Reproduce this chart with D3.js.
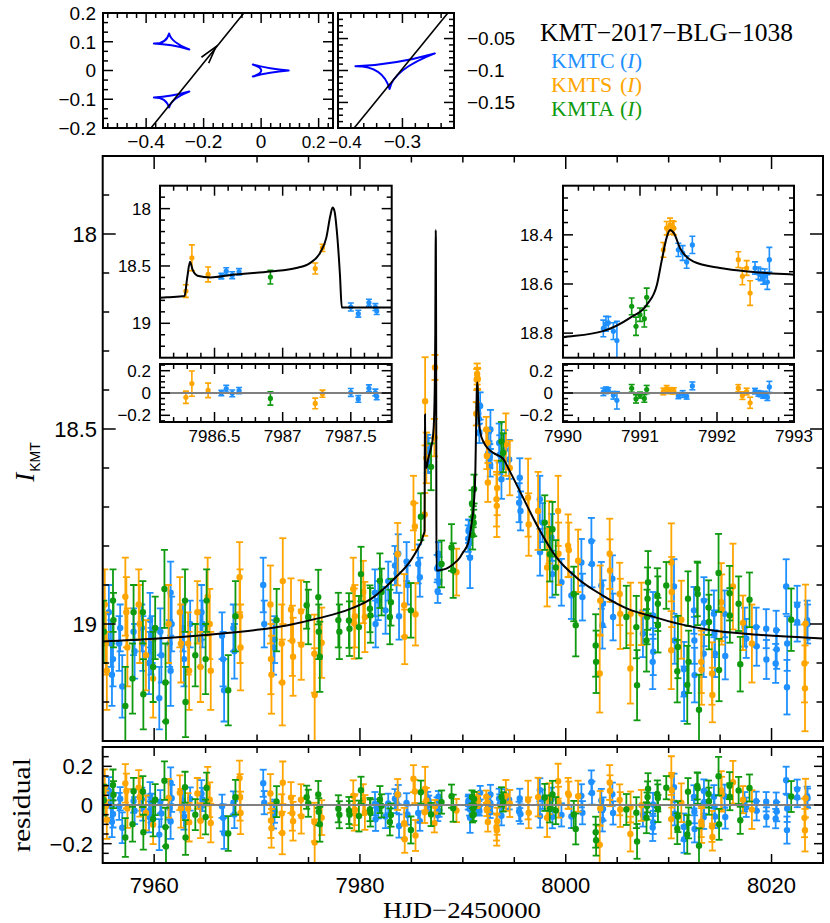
<!DOCTYPE html>
<html><head><meta charset="utf-8"><title>KMT-2017-BLG-1038</title>
<script src="https://cdn.jsdelivr.net/npm/d3@7/dist/d3.min.js"></script>
<style>html,body{margin:0;padding:0;background:#fff}svg{display:block}</style>
</head><body>
<svg id="chart" width="830" height="923" xmlns="http://www.w3.org/2000/svg"></svg>
<script>
// ---------------- data: [HJD-2450000, I mag, error] ----------------
const kmtcData = [
[7955.6,18.97,0.07],[7955.8,19.05,0.06],[7956.0,19.09,0.07],[7955.9,19.13,0.08],
[7956.7,19.01,0.06],[7956.6,19.05,0.07],[7956.9,19.16,0.08],
[7958.0,19.02,0.06],[7958.1,19.07,0.07],[7958.8,19.01,0.06],[7958.9,19.05,0.07],
[7959.6,18.99,0.07],[7959.7,19.07,0.06],[7959.5,19.10,0.08],[7959.8,19.04,0.06],
[7960.6,19.02,0.06],[7960.7,19.08,0.07],[7960.5,19.19,0.08],
[7961.6,18.92,0.08],[7961.7,19.00,0.07],[7961.5,19.05,0.06],[7961.6,19.12,0.09],
[7962.8,19.01,0.06],[7962.9,19.09,0.07],[7963.5,19.00,0.06],
[7964.6,18.97,0.07],[7964.7,19.00,0.06],[7964.5,19.04,0.07],
[7966.6,19.03,0.06],[7966.7,19.09,0.07],[7966.8,19.17,0.08],
[7967.7,19.01,0.06],[7967.8,19.07,0.07],[7970.6,18.90,0.07],[7970.7,19.00,0.06],
[7971.7,19.04,0.06],[7971.6,19.06,0.07],
[7981.46,18.92,0.06],[7981.52,19.00,0.06],[7981.78,18.94,0.05],[7982.49,18.965,0.06],
[7982.75,18.89,0.05],[7983.4,18.85,0.05],[7983.56,18.87,0.05],[7983.72,18.82,0.05],
[7983.8,18.98,0.06],[7984.53,18.84,0.05],[7984.63,18.90,0.05],[7985.66,18.846,0.05],
[7985.82,18.88,0.05],
[7986.55,18.588,0.025],[7986.586,18.545,0.03],[7986.63,18.58,0.03],[7986.68,18.551,0.028],
[7987.50,18.858,0.035],[7987.555,18.916,0.03],[7987.633,18.82,0.03],[7987.68,18.858,0.03],
[7987.69,18.893,0.03],
[7990.524,18.781,0.034],[7990.558,18.762,0.03],[7990.589,18.758,0.025],[7990.654,18.792,0.034],
[7990.70,18.83,0.078],
[7991.498,18.461,0.027],[7991.554,18.474,0.03],[7991.606,18.511,0.025],[7991.68,18.441,0.035],
[7992.494,18.535,0.025],[7992.537,18.556,0.025],[7992.567,18.562,0.025],[7992.6,18.576,0.025],
[7992.62,18.569,0.03],[7992.654,18.592,0.03],[7992.68,18.501,0.05],
[7993.53,18.536,0.05],[7993.59,18.566,0.05],[7993.75,18.629,0.05],[7994.08,18.553,0.05],
[7994.5,18.578,0.05],[7995.53,18.625,0.05],[7995.47,18.689,0.05],[7995.6,18.71,0.05],
[7997.48,18.68,0.06],[7997.5,18.816,0.06],[7997.74,18.74,0.05],[7998.61,18.778,0.06],
[7998.7,18.872,0.06],[7999.58,18.893,0.06],[8000.55,18.927,0.06],[8001.52,18.842,0.06],
[8001.62,18.931,0.06],[8002.49,18.788,0.06],[8002.55,18.846,0.06],[8003.46,18.901,0.06],
[8003.56,19.003,0.06],[8003.62,18.948,0.06],[8004.53,18.884,0.06],[8004.6,18.982,0.06],
[8007.5,19.025,0.06],
[8008.48,18.978,0.06],[8008.5,19.071,0.06],[8008.45,19.097,0.07],[8010.52,18.904,0.07],
[8010.58,19.042,0.06],[8011.49,19.116,0.07],[8011.5,19.179,0.07],[8012.46,18.965,0.06],
[8012.5,19.042,0.06],[8012.52,19.131,0.07],[8013.43,18.94,0.06],[8013.45,18.997,0.06],
[8013.4,19.076,0.06],[8014.4,18.974,0.06],[8014.45,19.025,0.06],[8014.5,19.076,0.06],
[8015.44,18.974,0.06],[8015.5,19.082,0.06],[8017.38,19.008,0.05],[8017.54,19.037,0.05],
[8018.51,19.008,0.05],[8018.55,19.057,0.05],[8019.48,19.012,0.05],[8019.5,19.091,0.05],
[8020.45,19.016,0.05],[8020.5,19.065,0.05],[8020.4,19.101,0.05],[8021.42,18.904,0.07],
[8021.52,19.05,0.07],[8021.5,19.162,0.07],[8022.49,18.952,0.05],[8022.5,18.995,0.05],
[8023.46,18.99,0.05],[8023.5,19.0,0.05]
];
const kmtsData = [
[7955.2,18.95,0.09],[7955.3,19.05,0.08],[7955.4,19.12,0.10],
[7957.2,18.93,0.10],[7957.3,18.97,0.09],[7957.4,19.06,0.10],
[7958.5,18.95,0.09],[7958.6,19.00,0.10],[7959.2,19.08,0.09],[7959.9,19.14,0.10],
[7961.4,19.00,0.10],[7962.5,18.97,0.09],[7962.6,19.05,0.10],
[7963.3,19.05,0.08],[7963.4,19.12,0.10],[7964.2,18.97,0.08],[7964.5,19.11,0.09],
[7965.2,18.93,0.10],[7965.4,19.00,0.09],[7965.5,19.12,0.10],
[7968.3,18.88,0.09],[7968.35,18.98,0.12],[7968.4,19.06,0.11],
[7971.3,18.95,0.10],[7971.35,19.09,0.09],[7971.4,19.13,0.10],
[7972.5,18.89,0.11],[7972.4,19.05,0.10],[7972.45,19.15,0.11],
[7973.3,18.963,0.08],[7973.43,19.043,0.09],[7973.5,19.084,0.10],[7974.27,18.968,0.08],
[7974.3,19.053,0.09],[7975.57,19.076,0.10],[7975.6,19.182,0.12],[7976.28,19.048,0.09],
[7979.35,18.91,0.08],[7979.45,18.999,0.09],[7979.51,18.98,0.08],[7980.32,18.918,0.08],
[7980.48,18.982,0.09],[7983.66,18.821,0.08],[7984.3,18.952,0.08],[7984.35,19.033,0.07],
[7985.2,18.69,0.07],[7985.34,18.75,0.06],[7985.4,18.975,0.08],
[7986.29,18.719,0.055],[7986.334,18.429,0.113],[7986.453,18.574,0.065],
[7987.239,18.522,0.048],[7987.292,18.342,0.032],[7989.38,18.867,0.06],
[7991.303,18.461,0.03],[7991.346,18.373,0.027],[7991.39,18.359,0.027],[7991.424,18.37,0.027],
[7991.44,18.373,0.027],[7992.277,18.501,0.032],[7992.33,18.569,0.034],[7992.385,18.535,0.03],
[7992.43,18.637,0.05],
[7993.27,18.68,0.07],[7993.3,18.697,0.08],[7993.33,18.651,0.07],[7994.18,18.54,0.08],
[7994.56,18.60,0.07],[7996.34,18.676,0.10],[7996.4,18.745,0.08],[7997.31,18.71,0.10],
[7998.19,18.855,0.10],[7998.38,18.765,0.08],[7999.26,18.71,0.09],[7999.3,18.82,0.08],
[8000.23,18.799,0.08],[8000.3,18.81,0.07],[8001.2,18.838,0.08],[8003.3,19.127,0.10],
[8003.35,18.94,0.09],[8004.27,18.82,0.09],[8004.3,18.863,0.08],[8005.24,18.923,0.08],
[8005.3,18.974,0.09],[8006.28,19.114,0.09],[8006.3,18.974,0.08],[8007.35,18.974,0.08],
[8010.26,18.842,0.10],[8010.3,18.918,0.09],[8010.25,19.067,0.10],[8011.23,18.989,0.10],
[8013.17,19.097,0.08],[8013.2,19.117,0.09],[8014.21,19.127,0.08],[8014.25,19.182,0.07],
[8015.11,18.944,0.10],[8015.15,18.963,0.09],[8016.25,18.904,0.11],[8017.22,18.997,0.07],
[8018.09,19.05,0.10],[8023.2,19.101,0.10],[8023.25,19.165,0.11],[8023.3,18.999,0.10]
];
const kmtaData = [
[7955.1,19.02,0.08],[7956.0,18.94,0.08],[7956.05,18.99,0.07],[7957.2,19.21,0.10],
[7958.0,18.97,0.07],[7957.9,19.14,0.09],[7958.9,18.97,0.08],[7958.95,19.18,0.09],
[7960.1,19.01,0.08],[7959.9,19.11,0.09],[7961.0,18.91,0.10],[7961.1,19.15,0.10],
[7961.15,19.25,0.10],[7963.0,18.94,0.08],[7963.05,19.20,0.09],[7964.0,19.08,0.08],
[7965.1,18.94,0.08],[7965.0,19.09,0.09],[7967.2,19.17,0.09],[7967.9,18.98,0.09],
[7971.9,18.99,0.08],
[7974.82,18.952,0.06],[7974.98,18.982,0.07],[7975.95,18.931,0.07],[7976.0,19.02,0.07],
[7976.1,19.084,0.09],[7977.9,18.99,0.07],[7978.0,19.02,0.07],[7978.93,18.991,0.07],
[7978.98,19.012,0.07],[7979.9,19.008,0.08],[7980.1,18.872,0.07],[7980.97,18.961,0.06],
[7981.02,18.978,0.07],[7981.94,18.889,0.07],[7982.1,18.918,0.06],[7982.91,18.982,0.07],
[7983.01,18.944,0.06],[7984.95,18.965,0.07],[7985.92,18.725,0.06],
[7986.91,18.597,0.06],[7987.93,18.846,0.06],[7988.9,18.804,0.06],[7989.06,18.863,0.07],
[7990.892,18.691,0.034],[7990.948,18.772,0.037],[7991.0,18.725,0.027],[7991.056,18.741,0.034],
[7991.087,18.654,0.037],
[7993.75,18.532,0.05],[7993.92,18.561,0.05],[7997.96,18.74,0.07],[7998.45,18.821,0.07],
[7998.71,18.757,0.07],[7999.03,18.855,0.07],[8000.78,18.923,0.07],[8000.97,19.003,0.08],
[8002.91,19.055,0.08],[8002.95,19.097,0.08],[8005.89,18.982,0.08],[8006.86,19.008,0.08],
[8006.93,19.157,0.09],[8008.0,18.893,0.08],
[8007.95,18.935,0.08],[8007.9,18.982,0.07],[8007.85,19.042,0.08],[8008.9,18.927,0.07],
[8008.95,18.948,0.07],[8008.96,19.003,0.07],[8009.77,18.901,0.06],[8010.9,19.059,0.08],
[8010.84,19.121,0.08],[8011.88,18.935,0.07],[8011.81,19.156,0.10],[8011.94,19.097,0.08],
[8012.78,18.91,0.07],[8012.82,18.923,0.08],[8012.95,19.22,0.09],[8013.88,18.958,0.07],
[8013.92,18.995,0.07],[8014.85,18.869,0.10],[8014.9,19.118,0.08],[8015.92,18.921,0.07],
[8015.95,18.978,0.07],[8016.8,18.948,0.07],[8016.96,19.103,0.07],[8017.86,18.938,0.07],
[8021.91,18.989,0.08]
];
// best-fit model light curve [HJD-2450000, I mag]
const modelCurve = [
[7955.0,19.045],[7960.0,19.038],[7965.0,19.028],[7970.0,19.015],[7973.0,19.003],
[7976.0,18.985],[7979.0,18.962],[7981.0,18.937],[7982.5,18.905],[7983.6,18.877],
[7984.7,18.846],[7985.3,18.822],[7985.7,18.803],[7986.0,18.787],[7986.15,18.773],
[7986.28,18.762],[7986.30,18.60],[7986.32,18.463],[7986.34,18.535],[7986.375,18.585],
[7986.47,18.600],[7986.62,18.578],[7986.91,18.548],[7987.10,18.518],[7987.20,18.475],
[7987.275,18.385],[7987.32,18.255],[7987.35,18.06],[7987.366,17.99],[7987.38,18.02],
[7987.40,18.23],[7987.42,18.57],[7987.434,18.863],[7987.79,18.862],[7988.4,18.858],
[7989.0,18.848],[7989.7,18.83],[7990.0,18.817],[7990.52,18.792],[7990.87,18.738],
[7991.09,18.684],[7991.22,18.603],[7991.28,18.508],[7991.35,18.407],[7991.39,18.38],
[7991.44,18.393],[7991.52,18.454],[7991.69,18.508],[7992.04,18.535],[7992.47,18.551],
[7993.0,18.562],[7993.9,18.576],[7994.56,18.608],[7995.85,18.676],[7997.15,18.744],
[7999.1,18.829],[8001.0,18.88],[8003.6,18.927],[8006.2,18.963],[8008.2,18.979],
[8010.9,18.999],[8014.15,19.016],[8017.4,19.025],[8020.6,19.031],[8025.0,19.037]
];
// caustics: cusp, edge-control, cusp, edge-control, ... (closed)
const causticUpper = [[-0.373,0.0935],[-0.3128,0.091],[-0.2497,0.0733],[-0.3142,0.0986],[-0.32,0.129],[-0.33,0.093]];
const causticLower = [[-0.373,-0.0935],[-0.3128,-0.091],[-0.2497,-0.0733],[-0.3142,-0.0986],[-0.32,-0.129],[-0.33,-0.093]];
const causticCentral = [[-0.029,0.021],[0.025,0.006],[0.096,0],[0.025,-0.006],[-0.029,-0.021],[0.03,0]];
const trajectory = [[-0.383,-0.2],[-0.06,0.2]];
const trajectoryArrow = [-0.157,0.083];

const seriesNames = ["KMTC","KMTS","KMTA"];
const eventName = "KMT\u22122017\u2212BLG\u22121038";
const mainXTicks = [7960,7980,8000,8020], mainXTickLabels = ["7960","7980","8000","8020"];
const mainYTicks = [18,18.5,19], mainYTickLabels = ["18","18.5","19"];
const resYTicks = [0.2,0,-0.2], resYTickLabels = ["0.2","0","\u22120.2"];
const leftInsetXTicks = [7986.5,7987,7987.5], leftInsetXTickLabels = ["7986.5","7987","7987.5"];
const leftInsetYTicks = [18,18.5,19], leftInsetYTickLabels = ["18","18.5","19"];
const rightInsetXTicks = [7990,7991,7992,7993], rightInsetXTickLabels = ["7990","7991","7992","7993"];
const rightInsetYTicks = [18.4,18.6,18.8], rightInsetYTickLabels = ["18.4","18.6","18.8"];
const causticXTicks = [-0.4,-0.2,0,0.2], causticXTickLabels = ["\u22120.4","\u22120.2","0","0.2"];
const causticYTicks = [0.2,0.1,0,-0.1,-0.2], causticYTickLabels = ["0.2","0.1","0","\u22120.1","\u22120.2"];
const zoomXTicks = [-0.4,-0.3], zoomXTickLabels = ["\u22120.4","\u22120.3"];
const zoomYTicks = [-0.05,-0.1,-0.15], zoomYTickLabels = ["\u22120.05","\u22120.1","\u22120.15"];

// ---------------- drawing ----------------
const SANS = "'Liberation Sans', Arial, Helvetica, sans-serif";
const SERIF = "'Liberation Serif', 'Times New Roman', serif";
const colorOf = {KMTC:"#1e90ff", KMTS:"#ffa500", KMTA:"#109a10"};
const dataOf = {KMTC:kmtcData, KMTS:kmtsData, KMTA:kmtaData};
const svg = d3.select("#chart");
const defs = svg.append("defs");

function modelAt(t){
  const i = d3.bisector(d=>d[0]).right(modelCurve, t);
  if (i<=0) return modelCurve[0][1];
  if (i>=modelCurve.length) return modelCurve[modelCurve.length-1][1];
  const a = modelCurve[i-1], b = modelCurve[i];
  return a[1] + (t-a[0])/(b[0]-a[0])*(b[1]-a[1]);
}
const magOf = d=>d[1];
const resOf = d=>modelAt(d[0]) - d[1];

function stepTicks(dom, step){
  const lo = Math.min(dom[0],dom[1]), hi = Math.max(dom[0],dom[1]);
  const out = [];
  for (let k=Math.ceil(lo/step-1e-7); k<=Math.floor(hi/step+1e-7); k++) out.push(k*step);
  return out;
}
function isMult(v,m){ const r=v/m; return Math.abs(r-Math.round(r))<1e-6; }

let clipN = 0;
function panel(box, xDom, yDom){
  const xs = d3.scaleLinear().domain(xDom).range([box.x, box.x+box.w]);
  const ys = d3.scaleLinear().domain(yDom).range([box.y+box.h, box.y]);
  const g = svg.append("g");
  g.append("rect").attr("x",box.x).attr("y",box.y).attr("width",box.w).attr("height",box.h).attr("fill","#fff");
  const id = "clip"+(clipN++);
  defs.append("clipPath").attr("id",id).append("rect")
    .attr("x",box.x).attr("y",box.y).attr("width",box.w).attr("height",box.h);
  const inner = g.append("g").attr("clip-path",`url(#${id})`);
  const axes = g.append("g");
  return {box,xs,ys,g,inner,axes};
}

function frame(p, o){
  const {box,xs,ys,axes} = p;
  const x0=box.x, x1=box.x+box.w, y0=box.y, y1=box.y+box.h;
  const tk = axes.append("g").attr("stroke","#000").attr("stroke-width",o.tw||1.5);
  stepTicks(xs.domain(), o.xMinor).forEach(v=>{
    const X = xs(v); if (X<x0+0.8 || X>x1-0.8) return;
    const L = isMult(v,o.xMajor) ? o.maj : o.min;
    tk.append("line").attr("x1",X).attr("x2",X).attr("y1",y1).attr("y2",y1-L);
    tk.append("line").attr("x1",X).attr("x2",X).attr("y1",y0).attr("y2",y0+L);
  });
  stepTicks(ys.domain(), o.yMinor).forEach(v=>{
    const Y = ys(v); if (Y<y0+0.8 || Y>y1-0.8) return;
    const L = isMult(v,o.yMajor) ? o.maj : o.min;
    tk.append("line").attr("y1",Y).attr("y2",Y).attr("x1",x0).attr("x2",x0+L);
    tk.append("line").attr("y1",Y).attr("y2",Y).attr("x1",x1).attr("x2",x1-L);
  });
  axes.append("rect").attr("x",x0).attr("y",y0).attr("width",box.w).attr("height",box.h)
    .attr("fill","none").attr("stroke","#000").attr("stroke-width",o.fw||2);
  if (o.xLab){
    const L=o.xLab;
    axes.append("g").selectAll("text").data(L.vals).join("text")
      .attr("x",(v,i)=>xs(v)+(L.dx?L.dx[i]:0)).attr("y",L.y).attr("text-anchor","middle")
      .attr("font-family",SANS).attr("font-size",(v,i)=>L.sizes?L.sizes[i]:L.size).attr("fill","#000")
      .text((v,i)=>L.text[i]);
  }
  if (o.yLab){
    const L=o.yLab;
    axes.append("g").selectAll("text").data(L.vals).join("text")
      .attr("x",L.x).attr("y",v=>ys(v)).attr("dy","0.36em")
      .attr("text-anchor",L.anchor||"end")
      .attr("font-family",SANS).attr("font-size",L.size).attr("fill","#000")
      .text((v,i)=>L.text[i]);
  }
}

function drawPoints(p, data, color, valOf, r, cap, sw){
  const {xs,ys,inner} = p;
  const g = inner.append("g").attr("stroke",color).attr("fill",color).attr("stroke-width",sw);
  g.selectAll("line.bar").data(data).join("line").attr("class","bar")
    .attr("x1",d=>xs(d[0])).attr("x2",d=>xs(d[0]))
    .attr("y1",d=>ys(valOf(d)-d[2])).attr("y2",d=>ys(valOf(d)+d[2]));
  g.selectAll("line.capa").data(data).join("line").attr("class","capa")
    .attr("x1",d=>xs(d[0])-cap).attr("x2",d=>xs(d[0])+cap)
    .attr("y1",d=>ys(valOf(d)-d[2])).attr("y2",d=>ys(valOf(d)-d[2]));
  g.selectAll("line.capb").data(data).join("line").attr("class","capb")
    .attr("x1",d=>xs(d[0])-cap).attr("x2",d=>xs(d[0])+cap)
    .attr("y1",d=>ys(valOf(d)+d[2])).attr("y2",d=>ys(valOf(d)+d[2]));
  g.selectAll("circle").data(data).join("circle")
    .attr("cx",d=>xs(d[0])).attr("cy",d=>ys(valOf(d))).attr("r",r).attr("stroke","none");
}
function drawModel(p, w){
  p.inner.append("path").datum(modelCurve)
    .attr("d", d3.line().x(d=>p.xs(d[0])).y(d=>p.ys(d[1])).curve(d3.curveMonotoneX))
    .attr("fill","none").attr("stroke","#000").attr("stroke-width",w);
}
function drawZero(p){
  p.inner.append("line").attr("x1",p.box.x).attr("x2",p.box.x+p.box.w)
    .attr("y1",p.ys(0)).attr("y2",p.ys(0)).attr("stroke","#808080").attr("stroke-width",2);
}

// ---- main light curve ----
const mainP = panel({x:102.7,y:156,w:720.3,h:585},[7955,8025],[19.3,17.8]);
seriesNames.forEach(n=>drawPoints(mainP,dataOf[n],colorOf[n],magOf,3.2,3.5,1.8));
drawModel(mainP,2);
frame(mainP,{xMajor:20,xMinor:5,yMajor:0.5,yMinor:0.1,maj:13,min:6.5,
  yLab:{vals:mainYTicks,text:mainYTickLabels,x:97,size:22}});

// ---- main residuals ----
const resP = panel({x:102.7,y:747,w:720.3,h:116},[7955,8025],[-0.3,0.3]);
seriesNames.forEach(n=>drawPoints(resP,dataOf[n],colorOf[n],resOf,3.2,3.5,1.8));
drawZero(resP);
frame(resP,{xMajor:20,xMinor:5,yMajor:0.2,yMinor:0.05,maj:9,min:6,
  xLab:{vals:mainXTicks,text:mainXTickLabels,y:893,size:22},
  yLab:{vals:resYTicks,text:resYTickLabels,x:93,size:22}});

// ---- left inset (first caustic crossing) ----
const liP = panel({x:160,y:185.7,w:231.7,h:172},[7986.1,7987.8],[19.3,17.8]);
seriesNames.forEach(n=>drawPoints(liP,dataOf[n],colorOf[n],magOf,2.6,3,1.6));
drawModel(liP,2);
frame(liP,{xMajor:0.5,xMinor:0.1,yMajor:0.5,yMinor:0.1,maj:10,min:5,
  yLab:{vals:leftInsetYTicks,text:leftInsetYTickLabels,x:151,size:17}});
const lirP = panel({x:160,y:364,w:231.7,h:58},[7986.1,7987.8],[-0.26,0.26]);
seriesNames.forEach(n=>drawPoints(lirP,dataOf[n],colorOf[n],resOf,2.6,3,1.6));
drawZero(lirP);
frame(lirP,{xMajor:0.5,xMinor:0.1,yMajor:0.2,yMinor:0.05,maj:10,min:5,
  xLab:{vals:leftInsetXTicks,text:leftInsetXTickLabels,y:442,size:17},
  yLab:{vals:resYTicks,text:resYTickLabels,x:151,size:17}});

// ---- right inset (second peak) ----
const riP = panel({x:563,y:185.7,w:231,h:172},[7990,7993],[18.9,18.2]);
seriesNames.forEach(n=>drawPoints(riP,dataOf[n],colorOf[n],magOf,2.6,3,1.6));
drawModel(riP,2);
frame(riP,{xMajor:1,xMinor:0.2,yMajor:0.2,yMinor:0.05,maj:10,min:5,
  yLab:{vals:rightInsetYTicks,text:rightInsetYTickLabels,x:553,size:17}});
const rirP = panel({x:563,y:364,w:231,h:58},[7990,7993],[-0.26,0.26]);
seriesNames.forEach(n=>drawPoints(rirP,dataOf[n],colorOf[n],resOf,2.6,3,1.6));
drawZero(rirP);
frame(rirP,{xMajor:1,xMinor:0.2,yMajor:0.2,yMinor:0.05,maj:10,min:5,
  xLab:{vals:rightInsetXTicks,text:rightInsetXTickLabels,y:442,size:17},
  yLab:{vals:resYTicks,text:resYTickLabels,x:553,size:17}});

// ---- caustic panels ----
function causticPath(pts, xs, ys){
  const p = d3.path();
  p.moveTo(xs(pts[0][0]), ys(pts[0][1]));
  for (let i=1;i<pts.length;i+=2){
    const k = pts[i], n = pts[(i+1)%pts.length];
    p.quadraticCurveTo(xs(k[0]),ys(k[1]),xs(n[0]),ys(n[1]));
  }
  p.closePath();
  return p.toString();
}
function drawGeometry(p){
  [causticUpper,causticLower,causticCentral].forEach(c=>{
    p.inner.append("path").attr("d",causticPath(c,p.xs,p.ys))
      .attr("fill","none").attr("stroke","#0000ff").attr("stroke-width",2).attr("stroke-linejoin","round");
  });
  p.inner.append("path").datum(trajectory)
    .attr("d",d3.line().x(d=>p.xs(d[0])).y(d=>p.ys(d[1])))
    .attr("stroke","#000").attr("stroke-width",1.6).attr("fill","none");
  const dx = p.xs(trajectory[1][0])-p.xs(trajectory[0][0]);
  const dy = p.ys(trajectory[1][1])-p.ys(trajectory[0][1]);
  const ang = Math.atan2(dy,dx);
  const tx = p.xs(trajectoryArrow[0]), ty = p.ys(trajectoryArrow[1]);
  const L = 18, a = 15*Math.PI/180;
  const arm = s => [tx - L*Math.cos(ang+s*a), ty - L*Math.sin(ang+s*a)];
  const A1 = arm(1), A2 = arm(-1);
  p.inner.append("path").attr("d",`M${A1[0]},${A1[1]}L${tx},${ty}L${A2[0]},${A2[1]}`)
    .attr("stroke","#000").attr("stroke-width",1.6).attr("fill","none");
}
const cP = panel({x:103,y:13,w:230,h:115},[-0.55,0.25],[-0.2,0.2]);
drawGeometry(cP);
frame(cP,{xMajor:0.2,xMinor:1/30,yMajor:0.1,yMinor:1/30,maj:10,min:5,
  xLab:{vals:causticXTicks,text:causticXTickLabels,y:148,size:19,dx:[0,0,0,-5],sizes:[19,19,19,17]},
  yLab:{vals:causticYTicks,text:causticYTickLabels,x:96,size:19}});
const zP = panel({x:338,y:13,w:116,h:115},[-0.4,-0.22],[-0.19,-0.01]);
drawGeometry(zP);
frame(zP,{xMajor:0.1,xMinor:0.02,yMajor:0.05,yMinor:0.01,maj:10,min:5,
  xLab:{vals:zoomXTicks,text:zoomXTickLabels,y:148,size:19,dx:[7,0],sizes:[17,19]},
  yLab:{vals:zoomYTicks,text:zoomYTickLabels,x:467,size:19,anchor:"start"}});

// ---- legend / title ----
svg.append("text").attr("x",540).attr("y",41).attr("font-family",SERIF).attr("font-size",25)
  .attr("textLength",253).attr("lengthAdjust","spacingAndGlyphs").attr("fill","#000").text(eventName);
seriesNames.forEach((n,i)=>{
  const y = 68 + i*24;
  const t = svg.append("text").attr("y",y).attr("font-family",SERIF).attr("font-size",22).attr("fill",colorOf[n]);
  t.append("tspan").attr("x",551).text(n);
  t.append("tspan").attr("x",620).text("(");
  t.append("tspan").attr("font-style","italic").text("I");
  t.append("tspan").text(")");
});

// ---- axis titles ----
svg.append("text").attr("x",462).attr("y",918).attr("text-anchor","middle")
  .attr("font-family",SERIF).attr("font-size",24).attr("textLength",158).attr("lengthAdjust","spacingAndGlyphs")
  .text("HJD\u22122450000");
const yl = svg.append("text").attr("transform","translate(34,462) rotate(-90)").attr("text-anchor","middle")
  .attr("font-family",SERIF).attr("font-size",27);
yl.append("tspan").attr("font-style","italic").text("I");
yl.append("tspan").attr("font-family",SANS).attr("font-size",14).attr("dy",6).attr("dx",1).text("KMT");
svg.append("text").attr("transform","translate(30,805) rotate(-90)").attr("text-anchor","middle")
  .attr("font-family",SERIF).attr("font-size",26).attr("textLength",94).attr("lengthAdjust","spacingAndGlyphs")
  .text("residual");
</script>
</body></html>
